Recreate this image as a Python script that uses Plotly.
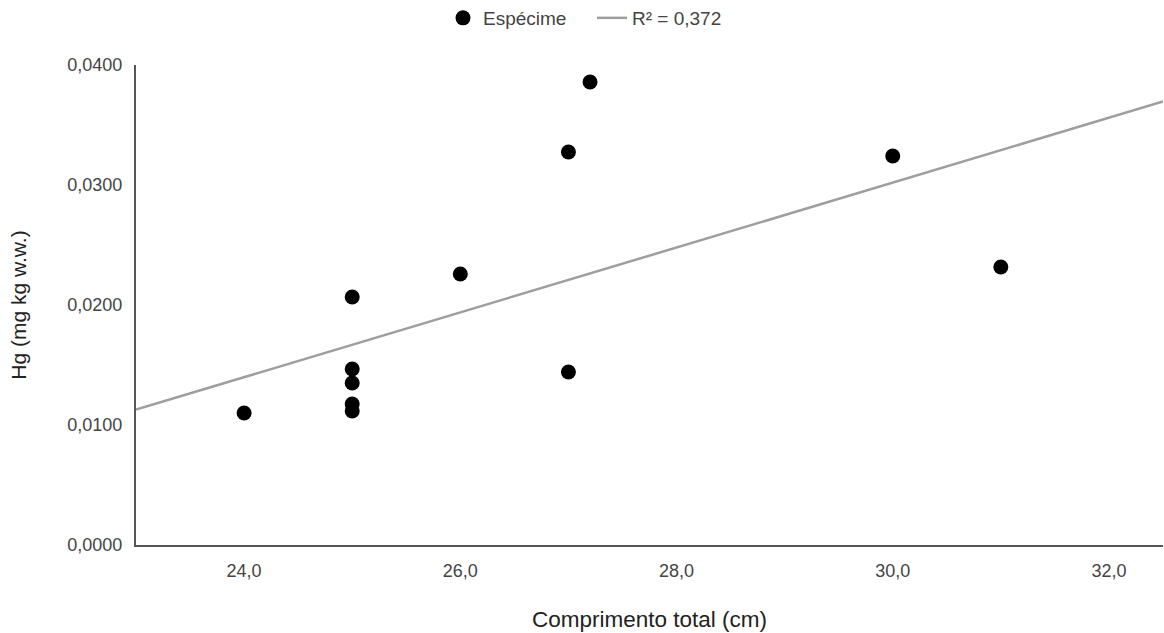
import numpy as np
import plotly.graph_objects as go

# Data
comprimento = [24.0, 25.0, 25.0, 25.0, 25.0, 25.0, 26.0, 27.0, 27.0, 27.2, 30.0, 31.0]
hg = [0.0110, 0.02067, 0.01467, 0.01350, 0.01175, 0.01117, 0.02258, 0.03275, 0.01442, 0.03858, 0.03242, 0.02317]
x_range = [23.0, 32.5]
x_ticks = [24, 26, 28, 30, 32]
y_ticks = [0.0, 0.01, 0.02, 0.03, 0.04]

# Linear trendline (least squares)
slope, intercept = np.polyfit(comprimento, hg, 1)
pred = np.polyval([slope, intercept], comprimento)
r2 = 1 - np.sum((np.array(hg) - pred) ** 2) / np.sum((np.array(hg) - np.mean(hg)) ** 2)
trend_x = x_range
trend_y = [slope * v + intercept for v in trend_x]

fig = go.Figure()
fig.add_trace(go.Scatter(
    x=comprimento, y=hg, mode="markers", name="Espécime",
    marker=dict(color="black", size=15, line=dict(width=0)),
))
fig.add_trace(go.Scatter(
    x=trend_x, y=trend_y, mode="lines",
    name="R² = " + f"{r2:.3f}".replace(".", ","),
    line=dict(color="#9e9e9e", width=2.5),
))

font_family = "Liberation Sans, Arial, sans-serif"
fig.update_layout(
    width=1164, height=633,
    paper_bgcolor="white", plot_bgcolor="white",
    margin=dict(l=136, r=1, t=65, b=88),
    separators=",.",
    font=dict(family=font_family, size=18, color="#444444"),
    showlegend=True,
    legend=dict(orientation="h", x=443 / 1164, xanchor="left", xref="container",
                y=1 - 18 / 633, yanchor="middle", yref="container",
                font=dict(size=19, color="#444444"),
                itemwidth=30, entrywidth=104, entrywidthmode="pixels",
                traceorder="normal"),
    xaxis=dict(
        range=x_range, tickvals=x_ticks, tickformat=".1f",
        showgrid=False, zeroline=False,
        showline=True, linecolor="#555555", linewidth=2,
        ticks="outside", ticklen=8, tickcolor="rgba(0,0,0,0)",
        title=dict(text="Comprimento total (cm)", standoff=32,
                   font=dict(size=22.5, color="#222222")),
        tickfont=dict(size=18, color="#444444"),
    ),
    yaxis=dict(
        range=[0, 0.04], tickvals=y_ticks, tickformat=".4f",
        showgrid=False, zeroline=False,
        showline=True, linecolor="#555555", linewidth=2,
        ticks="outside", ticklen=8, tickcolor="rgba(0,0,0,0)",
        title=dict(text="Hg (mg kg w.w.)", standoff=35,
                   font=dict(size=21, color="#222222")),
        tickfont=dict(size=18, color="#444444"),
    ),
)

fig.write_html("out.html", config={"displayModeBar": False},
               post_script="document.body.style.margin='0';")
